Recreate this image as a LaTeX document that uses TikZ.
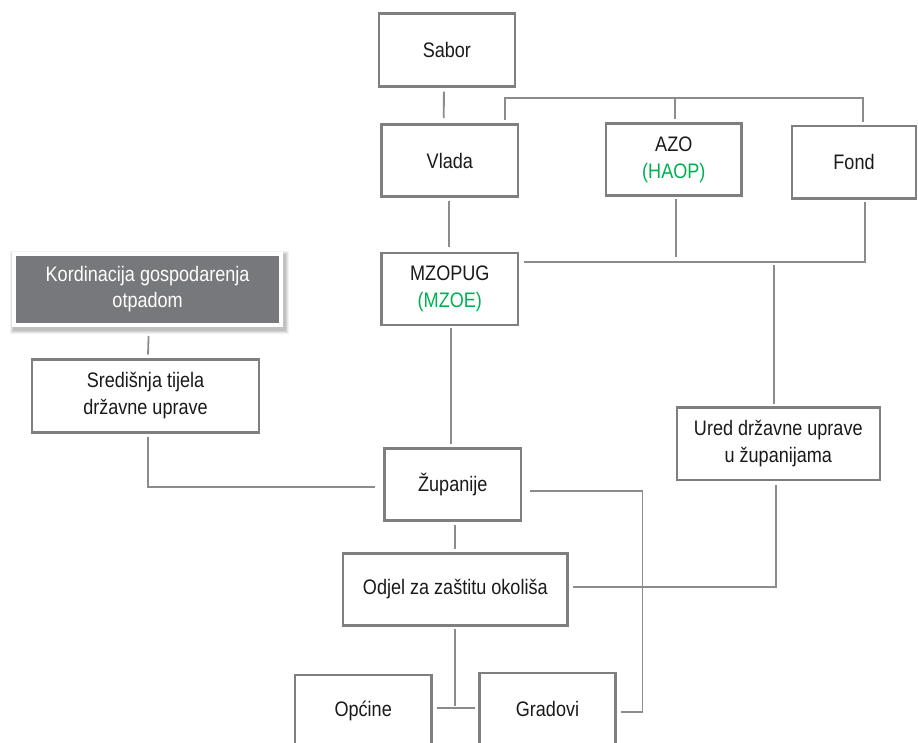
\documentclass[tikz,border=0pt]{standalone}
\usepackage{fontspec}
\setmainfont{Liberation Sans}[FakeStretch=0.86]
\usetikzlibrary{calc}
\definecolor{boxline}{HTML}{7F7F7F}
\definecolor{connline}{HTML}{8C8C8C}
\definecolor{kordfill}{HTML}{77787B}
\definecolor{txtgreen}{HTML}{00B050}
\definecolor{txtdark}{HTML}{1A1A1A}
\begin{document}
\begin{tikzpicture}[x=1pt,y=-1pt,
  orgbox/.style={draw=boxline, line width=2.6pt, fill=white, inner sep=0pt,
    align=center, text=txtdark, font=\fontsize{21}{26.7}\selectfont},
  conn/.style={draw=connline, line width=1.8pt},
  grn/.style={text=txtgreen}]
\useasboundingbox (0,0) rectangle (918,742);
\clip (0,0) rectangle (918,742);
\fill[white] (0,0) rectangle (918,742);

% shadow for Kordinacija box
\foreach \o/\a in {4/0.05,3/0.06,2/0.07,1/0.08}{
  \fill[black, opacity=\a] (12.3-\o+1.5,251.7-\o+3) rectangle (283+\o+1.5,326.7+\o+3);
}

% nodes
\node[orgbox, minimum width=136pt, minimum height=73pt] (sabor) at (446.9,49.7) {Sabor};
\node[orgbox, minimum width=136.5pt, minimum height=72pt] (vlada) at (449.8,160.5) {Vlada};
\node[orgbox, minimum width=135.5pt, minimum height=72pt] (azo) at (673.8,159.5) {AZO\\\textcolor{txtgreen}{(HAOP)}};
\node[orgbox, minimum width=124pt, minimum height=72.5pt] (fond) at (854,162.2) {Fond};
\node[orgbox, minimum width=136.5pt, minimum height=72pt] (mzopug) at (449.8,288.8) {MZOPUG\\\textcolor{txtgreen}{(MZOE)}};
\node[draw=white, line width=4pt, fill=kordfill, inner sep=0pt, align=center, text=white,
  font=\fontsize{21}{26.7}\selectfont, minimum width=267pt, minimum height=71.3pt] (kord) at (147.6,289.2)
  {Kordinacija gospodarenja\\otpadom};
\node[orgbox, minimum width=227pt, minimum height=73pt] (sred) at (145.5,395.8) {Središnja tijela\\državne uprave};
\node[orgbox, minimum width=203pt, minimum height=72.7pt] (ured) at (778.3,443.7) {Ured državne uprave\\u županijama};
\node[orgbox, minimum width=136.4pt, minimum height=72.4pt] (zup) at (452.8,484.5) {Županije};
\node[orgbox, minimum width=224.6pt, minimum height=72.4pt] (odjel) at (455.3,589.5) {Odjel za zaštitu okoliša};
\node[orgbox, minimum width=136.3pt, minimum height=72pt] (opcine) at (363.2,711) {Općine};
\node[orgbox, minimum width=136.3pt, minimum height=72pt] (gradovi) at (547.5,708.8) {Gradovi};

% helper coordinates
\coordinate (bus) at (0,98);
\coordinate (bustwo) at (0,261.7);
\coordinate (azoend) at (0,256.7);
\coordinate (uredtop) at (0,265);
\coordinate (rightx) at (642.5,0);
\coordinate (odjend) at (0,705.5);

% Sabor - Vlada
\draw[conn] ([xshift=-3pt,yshift=-4pt]sabor.south) -- ([xshift=-6pt,yshift=5pt]vlada.north);

% top bus: Vlada - AZO - Fond
\coordinate (vt) at ([xshift=-14pt,yshift=3pt]vlada.north east);
\coordinate (ft) at ([xshift=9pt,yshift=3pt]fond.north);
\coordinate (at) at ([xshift=1pt,yshift=3pt]azo.north);
\draw[conn] (vt) -- (vt |- bus) -- (ft |- bus) -- (ft);
\draw[conn] (at) -- (at |- bus);

% Vlada - MZOPUG
\draw[conn] ([xshift=-1pt,yshift=-3pt]vlada.south) -- ([xshift=-1pt,yshift=5pt]mzopug.north);

% second bus: MZOPUG - AZO - Fond - Ured
\coordinate (mr) at ([xshift=5pt]mzopug.north east |- bustwo);
\coordinate (fb) at ([xshift=10.6pt,yshift=-2pt]fond.south);
\draw[conn] (mr) -- (mr -| fb) -- (fb);
\coordinate (ab) at ([xshift=2pt,yshift=-2pt]azo.south);
\draw[conn] (ab) -- (ab |- azoend);
\coordinate (ut) at ([xshift=-4.5pt,yshift=2.5pt]ured.north);
\draw[conn] (ut) -- (ut |- uredtop);

% Kordinacija - Središnja
\draw[conn] ([xshift=1pt,yshift=-9pt]kord.south) -- ([xshift=2.5pt,yshift=3.5pt]sred.north);

% Središnja - Županije
\draw[conn] ([xshift=2.5pt,yshift=-3pt]sred.south) |- ([xshift=-8pt,yshift=-2.8pt]zup.west);

% MZOPUG - Županije
\draw[conn] ([xshift=1pt,yshift=-2pt]mzopug.south) -- ([xshift=-2pt,yshift=3.3pt]zup.north);

% Županije - Gradovi (right loop)
\coordinate (ze) at ([xshift=8pt,yshift=-6.5pt]zup.east);
\coordinate (ge) at ([xshift=4.5pt,yshift=-3.5pt]gradovi.east);
\draw[conn] (ze) -- (ze -| rightx) -- (rightx |- ge) -- (ge);

% Županije - Odjel
\draw[conn] ([xshift=2.5pt,yshift=-3pt]zup.south) -- ([yshift=2.6pt]odjel.north);

% Odjel - Ured
\draw[conn] ([xshift=4pt,yshift=2.5pt]odjel.east) -| ([xshift=-2pt,yshift=-3.3pt]ured.south);

% Odjel - Općine/Gradovi
\coordinate (os) at ([yshift=-2pt]odjel.south);
\draw[conn] (os) -- (os |- odjend);
\draw[conn] ([xshift=4.7pt,yshift=2.7pt]opcine.east) -- ([xshift=-3.3pt,yshift=0.5pt]gradovi.west);
\end{tikzpicture}
\end{document}
